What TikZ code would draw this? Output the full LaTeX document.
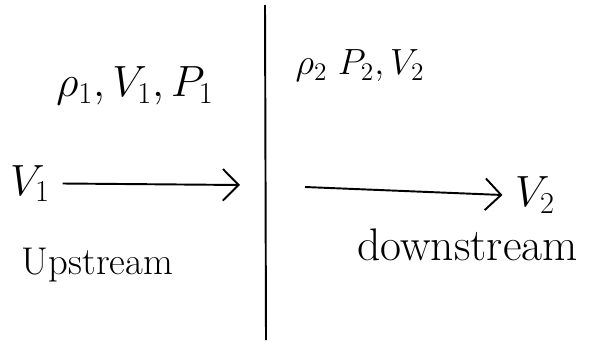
\documentclass[tikz,border=0pt]{standalone}
\usetikzlibrary{arrows.meta}
\begin{document}
\begin{tikzpicture}[x=1cm,y=1cm,
  hand/.style={font=\fontsize{26}{30}\selectfont, inner sep=1pt},
  handup/.style={font=\fontsize{22}{26}\selectfont, inner sep=1pt},
  handsm/.style={font=\fontsize{20}{24}\selectfont, inner sep=1pt},
  flow/.style={line width=1.1pt, -{Straight Barb[length=9pt,width=18pt,line width=1.1pt]}}]
\useasboundingbox (0,0) rectangle (12.1,6.92);
% shock line
\coordinate (top) at (5.3,6.82);
\coordinate (bot) at (5.32,0.12);
\draw[line width=1.1pt] (top) -- (bot);
% states
\node[hand] (s1) at (2.7,5.2) {$\rho_1, V_1, P_1$};
\node[handsm] (s2) at (7.2,5.6) {$\rho_2\ P_2, V_2$};
% velocities
\node[hand] (v1) at (0.6,3.25) {$V_1$};
\coordinate (a1) at (4.8,3.22);
\draw[flow] ([xshift=6pt]v1.east) -- (a1);
\coordinate (a2) at (6.1,3.18);
\node[hand] (v2) at (10.7,3.02) {$V_2$};
\draw[flow] (a2) -- ([xshift=-6pt]v2.west);
% labels
\node[handup] (up) at (1.95,1.62) {Upstream};
\node[hand] (down) at (9.35,2.02) {downstream};
\end{tikzpicture}
\end{document}
